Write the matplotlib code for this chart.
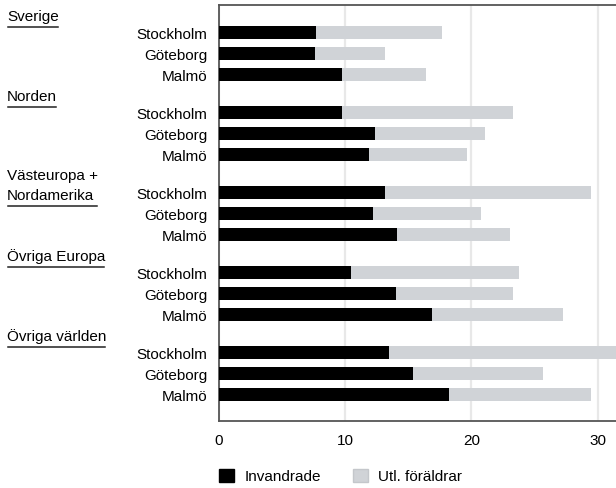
import matplotlib.pyplot as plt
import matplotlib.transforms as mtransforms
from matplotlib.lines import Line2D
from matplotlib.patches import Patch

plt.rcParams['font.family'] = ['Liberation Sans', 'DejaVu Sans']
plt.rcParams['font.size'] = 11

regions = ["Sverige", "Norden", "Västeuropa +\nNordamerika", "Övriga Europa", "Övriga världen"]
cities = ["Stockholm", "Göteborg", "Malmö"]

# percent, in row order (region by region, Stockholm/Göteborg/Malmö)
invandrade = [7.7, 7.6, 9.8,
              9.8, 12.4, 11.9,
              13.2, 12.2, 14.1,
              10.5, 14.0, 16.9,
              13.5, 15.4, 18.2]
utl_foraldrar = [10.0, 5.6, 6.6,
                 13.5, 8.7, 7.8,
                 16.3, 8.6, 9.0,
                 13.3, 9.3, 10.4,
                 18.1, 10.3, 11.3]

black = '#000000'
grey = '#D0D3D7'
spine_col = '#555555'

# row positions: 3 rows per region, extra gap between regions
group_step = 80 / 21
ypos = []
for g in range(len(regions)):
    for i in range(len(cities)):
        ypos.append(g * group_step + i)

fig = plt.figure(figsize=(6.16, 4.89), dpi=100)
ax = fig.add_axes([218.7 / 616, 1 - 422 / 489, 1 - 218.7 / 616, (422 - 6) / 489])

ax.barh(ypos, invandrade, height=0.62, color=black, zorder=3)
ax.barh(ypos, utl_foraldrar, left=invandrade, height=0.62, color=grey, zorder=3)

ax.set_xlim(0, 31.46)
ax.set_ylim(ypos[-1] + 1.24, -1.29)
ax.set_xticks([0, 10, 20, 30])
ax.set_yticks(ypos)
ax.set_yticklabels(cities * len(regions))
ax.tick_params(length=0, labelsize=11)
ax.tick_params(axis='y', pad=8)
ax.tick_params(axis='x', pad=8.5)
ax.grid(axis='x', color='#E8E8E8', lw=1.6, zorder=0)
ax.set_axisbelow(True)
for s in ['left', 'top', 'bottom']:
    ax.spines[s].set_color(spine_col)
    ax.spines[s].set_linewidth(1.3)
ax.spines['right'].set_visible(False)

# region labels with underline
trans = mtransforms.blended_transform_factory(fig.transFigure, ax.transData)
renderer = fig.canvas.get_renderer()
for g, name in enumerate(regions):
    first = ypos[g * 3]
    lines = name.split('\n')
    n = len(lines)
    texts = []
    for k, line in enumerate(lines):
        base = first - 0.6 if n == 1 else first + 0.29 - (n - 1 - k) * 20 / 21
        t = fig.text(7 / 616, base, line, transform=trans, ha='left', va='baseline', fontsize=11)
        texts.append(t)
    w = max(t.get_window_extent(renderer).width for t in texts) / 616
    last = texts[-1].get_position()[1]
    off = mtransforms.offset_copy(trans, fig=fig, x=0, y=-7, units='dots')
    fig.add_artist(Line2D([8 / 616, 8 / 616 + w - 2 / 616], [last, last], transform=off,
                          color='#222222', lw=1.1))

handles = [Patch(facecolor=black, edgecolor=black),
           Patch(facecolor=grey, edgecolor='#C4C7CB')]
fig.legend(handles, ['Invandrade', 'Utl. föräldrar'], loc='center left',
           bbox_to_anchor=(219 / 616, 1 - 477 / 489), ncol=2, frameon=False,
           handlelength=1.0, handleheight=0.92, handletextpad=0.65,
           columnspacing=2.1, borderpad=0, borderaxespad=0, fontsize=11)

fig.savefig('out.png', dpi=100)
